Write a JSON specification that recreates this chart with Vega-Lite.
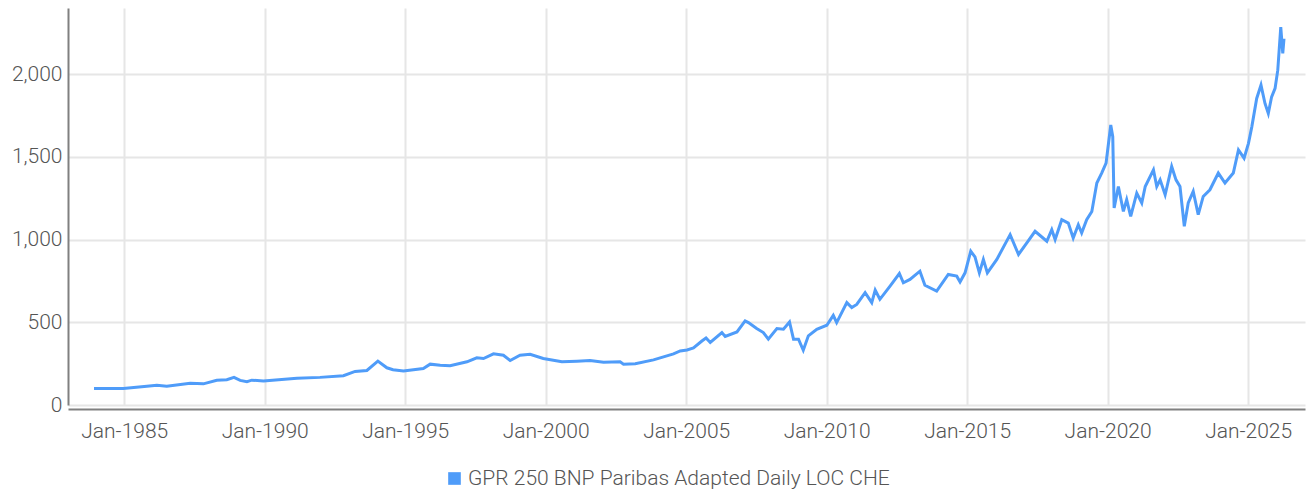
{
  "$schema": "https://vega.github.io/schema/vega-lite/v6.json",
  "width": 1237,
  "height": 397,
  "autosize": {"type": "none"},
  "padding": {"left": 68, "top": 8, "right": 1, "bottom": 85},
  "background": "white",
  "config": {
    "view": {"stroke": null},
    "font": "Roboto",
    "axis": {"labelFont": "Roboto", "labelFontWeight": 300, "labelColor": "#555555", "labelFontSize": 21, "gridColor": "#e6e6e6", "gridWidth": 2, "domainColor": "#808080", "domainWidth": 2, "ticks": false, "title": null},
    "legend": {"labelFont": "Roboto", "labelFontWeight": 300, "labelColor": "#555555", "labelFontSize": 21, "labelLimit": 0}
  },
  "data": {"values": [
    {"date": "1983-12-05", "v": 100}, {"date": "1984-12-20", "v": 100}, {"date": "1985-10-22", "v": 113}, {"date": "1986-03-01", "v": 119},
    {"date": "1986-07-08", "v": 114}, {"date": "1987-05-08", "v": 132}, {"date": "1987-10-27", "v": 128}, {"date": "1988-04-18", "v": 149},
    {"date": "1988-08-26", "v": 153}, {"date": "1988-11-28", "v": 167}, {"date": "1989-02-16", "v": 149}, {"date": "1989-05-15", "v": 141},
    {"date": "1989-07-17", "v": 150}, {"date": "1989-12-16", "v": 145}, {"date": "1991-02-24", "v": 161}, {"date": "1991-12-20", "v": 167},
    {"date": "1992-10-20", "v": 177}, {"date": "1993-03-21", "v": 203}, {"date": "1993-08-21", "v": 209}, {"date": "1994-01-11", "v": 265},
    {"date": "1994-05-08", "v": 225}, {"date": "1994-07-27", "v": 213}, {"date": "1994-12-10", "v": 205}, {"date": "1995-08-25", "v": 221},
    {"date": "1995-11-22", "v": 247}, {"date": "1996-04-01", "v": 241}, {"date": "1996-08-07", "v": 237}, {"date": "1997-03-14", "v": 261},
    {"date": "1997-07-20", "v": 285}, {"date": "1997-10-15", "v": 281}, {"date": "1998-02-22", "v": 309}, {"date": "1998-07-01", "v": 301},
    {"date": "1998-09-27", "v": 269}, {"date": "1999-02-02", "v": 301}, {"date": "1999-06-13", "v": 307}, {"date": "1999-12-01", "v": 281},
    {"date": "2000-07-30", "v": 261}, {"date": "2001-02-11", "v": 265}, {"date": "2001-07-31", "v": 269}, {"date": "2002-01-23", "v": 259},
    {"date": "2002-08-26", "v": 261}, {"date": "2002-10-09", "v": 247}, {"date": "2003-03-11", "v": 249}, {"date": "2003-11-03", "v": 273},
    {"date": "2004-07-20", "v": 309}, {"date": "2004-10-15", "v": 327}, {"date": "2005-01-12", "v": 333}, {"date": "2005-04-06", "v": 345},
    {"date": "2005-07-24", "v": 387}, {"date": "2005-09-16", "v": 405}, {"date": "2005-11-10", "v": 378}, {"date": "2006-04-10", "v": 438},
    {"date": "2006-05-23", "v": 414}, {"date": "2006-10-23", "v": 442}, {"date": "2007-02-06", "v": 508}, {"date": "2007-03-21", "v": 498},
    {"date": "2007-07-06", "v": 462}, {"date": "2007-10-01", "v": 438}, {"date": "2007-12-05", "v": 398}, {"date": "2008-03-25", "v": 462},
    {"date": "2008-06-18", "v": 458}, {"date": "2008-09-05", "v": 502}, {"date": "2008-10-27", "v": 398}, {"date": "2008-12-31", "v": 398},
    {"date": "2009-03-03", "v": 331}, {"date": "2009-05-08", "v": 418}, {"date": "2009-08-25", "v": 458}, {"date": "2010-01-03", "v": 482},
    {"date": "2010-03-28", "v": 542}, {"date": "2010-05-11", "v": 498}, {"date": "2010-09-20", "v": 619}, {"date": "2010-11-23", "v": 589},
    {"date": "2011-01-27", "v": 608}, {"date": "2011-05-16", "v": 679}, {"date": "2011-08-10", "v": 619}, {"date": "2011-09-24", "v": 695},
    {"date": "2011-11-24", "v": 639}, {"date": "2012-04-04", "v": 719}, {"date": "2012-08-03", "v": 795}, {"date": "2012-09-24", "v": 739},
    {"date": "2012-12-19", "v": 759}, {"date": "2013-04-27", "v": 809}, {"date": "2013-07-01", "v": 724}, {"date": "2013-12-01", "v": 689},
    {"date": "2014-05-01", "v": 789}, {"date": "2014-08-19", "v": 779}, {"date": "2014-10-01", "v": 744}, {"date": "2014-12-05", "v": 799},
    {"date": "2015-02-17", "v": 930}, {"date": "2015-04-13", "v": 895}, {"date": "2015-06-09", "v": 799}, {"date": "2015-07-31", "v": 880},
    {"date": "2015-09-21", "v": 799}, {"date": "2016-01-22", "v": 880}, {"date": "2016-07-13", "v": 1030}, {"date": "2016-10-30", "v": 910},
    {"date": "2017-02-15", "v": 980}, {"date": "2017-06-02", "v": 1050}, {"date": "2017-11-02", "v": 990}, {"date": "2018-01-05", "v": 1060},
    {"date": "2018-02-18", "v": 1000}, {"date": "2018-05-15", "v": 1120}, {"date": "2018-08-08", "v": 1100}, {"date": "2018-10-11", "v": 1010},
    {"date": "2018-12-16", "v": 1090}, {"date": "2019-01-29", "v": 1040}, {"date": "2019-04-04", "v": 1120}, {"date": "2019-06-10", "v": 1170},
    {"date": "2019-08-14", "v": 1342}, {"date": "2019-10-16", "v": 1402}, {"date": "2019-12-12", "v": 1462}, {"date": "2020-02-11", "v": 1693},
    {"date": "2020-03-08", "v": 1622}, {"date": "2020-03-26", "v": 1191}, {"date": "2020-05-20", "v": 1321}, {"date": "2020-07-24", "v": 1170},
    {"date": "2020-09-05", "v": 1241}, {"date": "2020-10-27", "v": 1140}, {"date": "2021-01-14", "v": 1281}, {"date": "2021-03-20", "v": 1221},
    {"date": "2021-05-04", "v": 1321}, {"date": "2021-08-19", "v": 1422}, {"date": "2021-10-01", "v": 1321}, {"date": "2021-11-14", "v": 1361},
    {"date": "2022-01-18", "v": 1271}, {"date": "2022-04-13", "v": 1442}, {"date": "2022-06-08", "v": 1361}, {"date": "2022-07-30", "v": 1321},
    {"date": "2022-09-24", "v": 1080}, {"date": "2022-11-14", "v": 1221}, {"date": "2023-01-18", "v": 1291}, {"date": "2023-03-24", "v": 1151},
    {"date": "2023-05-28", "v": 1261}, {"date": "2023-08-23", "v": 1301}, {"date": "2023-12-10", "v": 1402}, {"date": "2024-03-06", "v": 1342},
    {"date": "2024-06-22", "v": 1402}, {"date": "2024-08-28", "v": 1542}, {"date": "2024-11-09", "v": 1492}, {"date": "2025-01-05", "v": 1582},
    {"date": "2025-02-18", "v": 1683}, {"date": "2025-04-22", "v": 1853}, {"date": "2025-06-17", "v": 1934}, {"date": "2025-08-08", "v": 1823},
    {"date": "2025-09-20", "v": 1763}, {"date": "2025-11-02", "v": 1863}, {"date": "2025-12-17", "v": 1914}, {"date": "2026-01-21", "v": 2024},
    {"date": "2026-03-01", "v": 2285}, {"date": "2026-03-27", "v": 2125}, {"date": "2026-04-12", "v": 2215}
  ]},
  "mark": {"type": "line", "strokeWidth": 3, "clip": true},
  "encoding": {
    "x": {
      "field": "date", "type": "temporal",
      "scale": {"domain": [{"year": 1983, "month": 1, "date": 1}, {"year": 2027, "month": 1, "date": 10}]},
      "axis": {
        "values": [{"year": 1985, "month": 1, "date": 1}, {"year": 1990, "month": 1, "date": 1}, {"year": 1995, "month": 1, "date": 1}, {"year": 2000, "month": 1, "date": 1}, {"year": 2005, "month": 1, "date": 1}, {"year": 2010, "month": 1, "date": 1}, {"year": 2015, "month": 1, "date": 1}, {"year": 2020, "month": 1, "date": 1}, {"year": 2025, "month": 1, "date": 1}],
        "format": "%b-%Y", "offset": 4, "labelPadding": 11, "grid": true
      }
    },
    "y": {
      "field": "v", "type": "quantitative",
      "scale": {"domain": [0, 2400], "nice": false},
      "axis": {"values": [0, 500, 1000, 1500, 2000], "format": ",d", "labelPadding": 6, "grid": true}
    },
    "color": {
      "datum": "GPR 250 BNP Paribas Adapted Daily LOC CHE",
      "scale": {"range": ["#4f9cf9"]},
      "legend": {"title": null, "orient": "none", "legendX": 376, "legendY": 460, "symbolType": "square", "symbolSize": 160, "symbolStrokeWidth": 0, "symbolFillColor": "#4f9cf9", "labelOffset": 3}
    }
  }
}
